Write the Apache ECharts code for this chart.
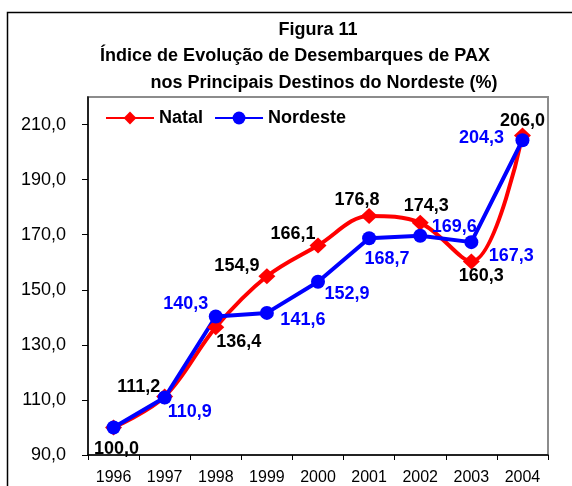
<!DOCTYPE html>
<html>
<head>
<meta charset="utf-8">
<script src="https://cdn.jsdelivr.net/npm/echarts@6/dist/echarts.min.js"></script>
<style>
  html, body { margin: 0; padding: 0; background: #fff; }
  #chart { width: 572px; height: 486px; }
</style>
</head>
<body>
<div id="chart"></div>
<script>
var anos = ['1996', '1997', '1998', '1999', '2000', '2001', '2002', '2003', '2004'];
var natal = [100.0, 111.2, 136.4, 154.9, 166.1, 176.8, 174.3, 160.3, 206.0];
var nordeste = [100.0, 110.9, 140.3, 141.6, 152.9, 168.7, 169.6, 167.3, 204.3];
var yTicks = [90, 110, 130, 150, 170, 190, 210];

// deslocamento dos rótulos em relação ao ponto (px)
var natalOffsets = [[3, 22], [-26, -10], [23, 15], [-30, -10], [-25, -11], [-12, -16], [6, -17], [10, 15], [0, -15]];
var nordesteOffsets = [null, [25, 15], [-30, -12], [36, 7], [29, 12], [18, 21], [34, -9], [40, 14], [-41, -2]];

var FONT = '"Liberation Sans", Arial, sans-serif';

function fmt(v) {
    return v.toFixed(1).replace('.', ',');
}

function buildData(values, offsets) {
    return values.map(function (v, i) {
        var item = {value: v};
        if (offsets[i]) {
            item.label = {show: true, offset: offsets[i]};
        } else {
            item.label = {show: false};
        }
        return item;
    });
}

var chart = echarts.init(document.getElementById('chart'));

var option = {
    animation: false,
    backgroundColor: '#fff',
    graphic: [
        {type: 'rect', shape: {x: 7.5, y: 12.5, width: 620, height: 520},
         style: {fill: 'none', stroke: '#000', lineWidth: 1.5}, silent: true},
        {type: 'text', x: 318, y: 30, style: {text: 'Figura 11', align: 'center', verticalAlign: 'middle',
            font: 'bold 18px ' + FONT, fill: '#000'}},
        {type: 'text', x: 295, y: 56, style: {text: 'Índice de Evolução de Desembarques de PAX', align: 'center',
            verticalAlign: 'middle', font: 'bold 18px ' + FONT, fill: '#000'}},
        {type: 'text', x: 324, y: 83, style: {text: 'nos Principais Destinos do Nordeste (%)', align: 'center',
            verticalAlign: 'middle', font: 'bold 18px ' + FONT, fill: '#000'}}
    ],
    legend: {
        left: 105,
        top: 109,
        padding: 0,
        itemWidth: 48,
        itemHeight: 16,
        itemGap: 11,
        textStyle: {fontFamily: FONT, fontWeight: 'bold', fontSize: 18, color: '#000'},
        data: ['Natal', 'Nordeste']
    },
    grid: {
        left: 88,
        top: 97,
        width: 460,
        height: 361,
        show: true,
        borderColor: '#8c8c8c',
        borderWidth: 2,
        containLabel: false
    },
    xAxis: {
        type: 'category',
        data: anos,
        boundaryGap: true,
        axisLine: {lineStyle: {color: '#000', width: 1.5}},
        axisTick: {show: true, inside: false, length: 5, alignWithLabel: false, lineStyle: {color: '#000'}},
        axisLabel: {fontFamily: FONT, fontSize: 16, color: '#000', margin: 15},
        splitLine: {show: false}
    },
    yAxis: {
        type: 'value',
        min: 90,
        max: 220,
        interval: 20,
        axisLine: {show: true, lineStyle: {color: '#000', width: 1.5}},
        axisTick: {show: true, inside: false, length: 6, lineStyle: {color: '#000'}, customValues: yTicks},
        axisLabel: {fontFamily: FONT, fontSize: 18, color: '#000', margin: 22,
            customValues: yTicks, formatter: function (v) { return fmt(v); }},
        splitLine: {show: false}
    },
    series: [
        {
            name: 'Natal',
            type: 'line',
            smooth: 0.35,
            symbol: 'diamond',
            symbolSize: [17, 16],
            color: '#ff0000',
            lineStyle: {color: '#ff0000', width: 4},
            itemStyle: {color: '#ff0000'},
            label: {
                show: true,
                position: 'inside',
                align: 'center',
                verticalAlign: 'middle',
                fontFamily: FONT,
                fontWeight: 'bold',
                fontSize: 18,
                color: '#000',
                formatter: function (p) { return fmt(p.value); }
            },
            data: buildData(natal, natalOffsets)
        },
        {
            name: 'Nordeste',
            type: 'line',
            smooth: false,
            symbol: 'circle',
            symbolSize: 14,
            color: '#0000ff',
            lineStyle: {color: '#0000ff', width: 4},
            itemStyle: {color: '#0000ff'},
            label: {
                show: true,
                position: 'inside',
                align: 'center',
                verticalAlign: 'middle',
                fontFamily: FONT,
                fontWeight: 'bold',
                fontSize: 18,
                color: '#0000ff',
                formatter: function (p) { return fmt(p.value); }
            },
            data: buildData(nordeste, nordesteOffsets)
        }
    ]
};

chart.setOption(option);
</script>
</body>
</html>
